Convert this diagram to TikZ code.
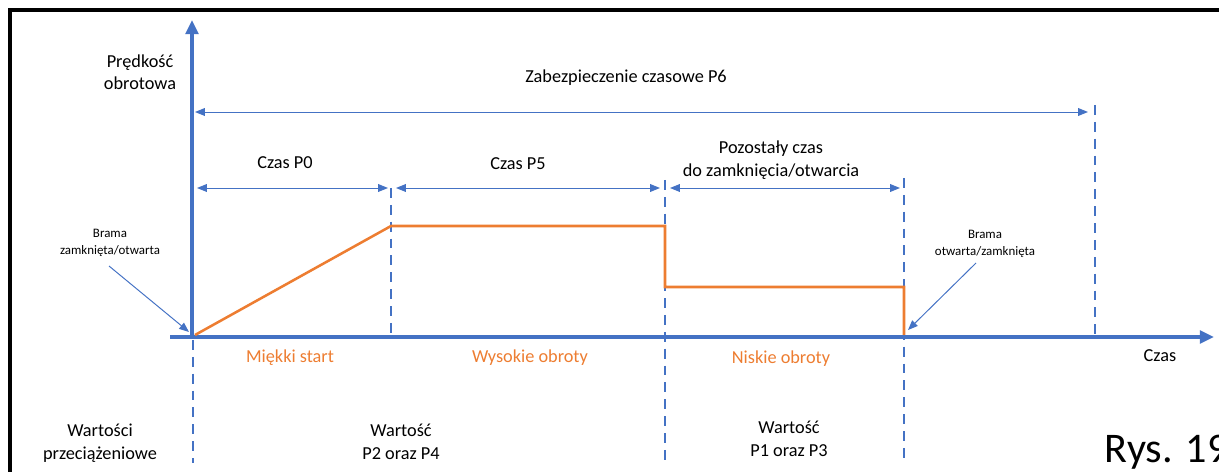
\documentclass[tikz,border=0pt]{standalone}
\usepackage{fontspec}
\setmainfont{Carlito}
\usetikzlibrary{arrows.meta}
\definecolor{osblue}{HTML}{4472C4}
\definecolor{osorange}{HTML}{ED7D31}

\begin{document}
\begin{tikzpicture}[x=0.025cm, y=-0.025cm, >={Triangle[length=7pt,width=5.5pt]},
        axis/.style={osblue, line width=2.6pt},
        dim/.style={osblue, line width=0.7pt, <->},
        guide/.style={osblue, line width=1.6pt, dash pattern=on 7pt off 5pt},
        speed/.style={osorange, line width=1.8pt, line join=miter},
        lbl/.style={font=\fontsize{13}{16}\selectfont, align=center},
        tiny/.style={font=\fontsize{9.2}{12.4}\selectfont, align=center},
        phase/.style={lbl, text=osorange}]
        \useasboundingbox (0,0) rectangle (1219,472);
        \clip (0,0) rectangle (1219,472);

        % Frame
        \draw[line width=2.2pt] (10,10) rectangle (1250,500);

        % Points on the time axis
        \coordinate (O) at (192,337);
        \coordinate (T1) at (391,337);
        \coordinate (T2) at (665,337);
        \coordinate (T3) at (904,337);
        \coordinate (T4) at (1095,337);

        % Dashed guides
        \draw[guide] (193,340) -- (193,463);
        \draw[guide] (391,188) -- (T1);
        \draw[guide] (665,180) -- (665,463);
        \draw[guide] (904,178) -- (904,463);
        \draw[guide] (1095,105) -- (T4);

        % Axes
        \coordinate (xs) at (170,337);
        \coordinate (xe) at (1214,337);
        \coordinate (ye) at (192,20);
        \draw[axis, -{Triangle[length=10pt,width=9pt]}] (xs) -- (xe);
        \draw[axis, line width=3pt, -{Triangle[length=10pt,width=9pt]}] (O) -- (ye);
        \node[lbl] (yl) at (140,72) {Prędkość\\obrotowa};
        \node[lbl] (xl) at (1160,356) {Czas};

        % Time spans
        \coordinate (p6a) at (195,112);
        \coordinate (p6b) at (1088,112);
        \draw[dim] (p6a) -- (p6b);
        \node[lbl] (p6) at (626,78) {Zabezpieczenie czasowe P6};

        \coordinate (p0a) at (197,188);
        \coordinate (p0b) at (388,188);
        \draw[dim] (p0a) -- (p0b);
        \node[lbl] (p0) at (285,163) {Czas P0};

        \coordinate (p5a) at (396,188);
        \coordinate (p5b) at (660,188);
        \draw[dim] (p5a) -- (p5b);
        \node[lbl] (p5) at (518,164) {Czas P5};

        \coordinate (ra) at (670,188);
        \coordinate (rb) at (900,188);
        \draw[dim] (ra) -- (rb);
        \node[lbl] (rest) at (771,160) {Pozostały czas\\do zamknięcia/otwarcia};

        % Speed profile
        \draw[speed] (195,335) -- (391,226) -- (665,226) -- (665,287)
            -- (904,287) -- (904,335);

        % Gate states
        \node[tiny] (g1) at (110,243) {Brama\\zamknięta/otwarta};
        \coordinate (g1s) at (109,266);
        \coordinate (g1e) at (189,332);
        \draw[osblue, line width=0.7pt, ->] (g1s) -- (g1e);

        \node[tiny] (g2) at (985,244) {Brama\\otwarta/zamknięta};
        \coordinate (g2s) at (976,263);
        \coordinate (g2e) at (908,330);
        \draw[osblue, line width=0.7pt, ->] (g2s) -- (g2e);

        % Phases
        \node[phase] (soft) at (290,358) {Miękki start};
        \node[phase] (high) at (530,358) {Wysokie obroty};
        \node[phase] (low) at (781,359) {Niskie obroty};

        % Overload values
        \node[lbl] (ov) at (100,443) {Wartości\\przeciążeniowe};
        \node[lbl] (v24) at (401,442) {Wartość\\P2 oraz P4};
        \node[lbl] (v13) at (789,439) {Wartość\\P1 oraz P3};

        \node[font=\fontsize{30}{36}\selectfont, anchor=base west] (rys) at (1100,462) {Rys. 19};
\end{tikzpicture}
\end{document}
